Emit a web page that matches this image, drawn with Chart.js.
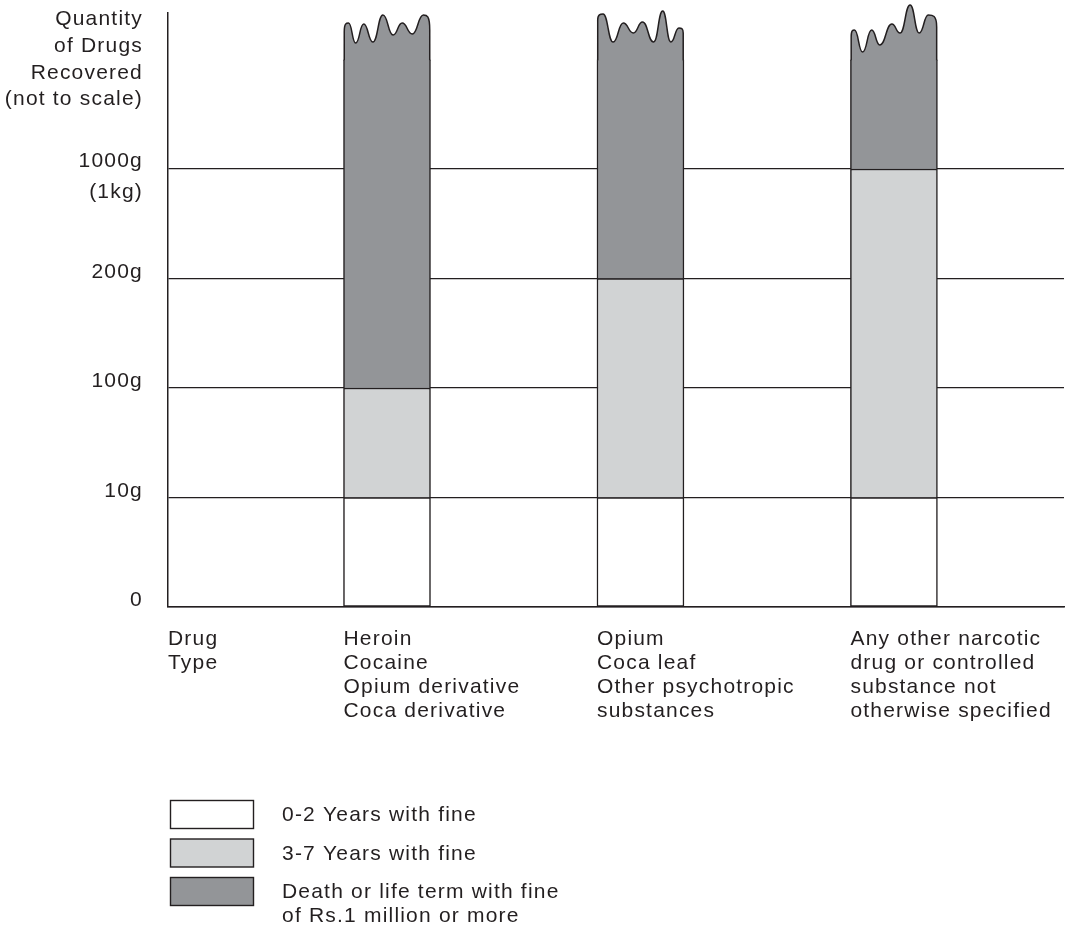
<!DOCTYPE html>
<html><head><meta charset="utf-8">
<script src="https://cdn.jsdelivr.net/npm/chart.js@4.4.1/dist/chart.umd.min.js"></script>
<style>html,body{margin:0;padding:0;background:#fff}#wrap{width:1065px;height:938px;position:relative}</style>
</head><body><div id="wrap"><canvas id="c"></canvas></div>
<script>
// ---------------- data ----------------
const drugGroups = [
  ['Heroin', 'Cocaine', 'Opium derivative', 'Coca derivative'],
  ['Opium', 'Coca leaf', 'Other psychotropic', 'substances'],
  ['Any other narcotic', 'drug or controlled', 'substance not', 'otherwise specified']
];
const axisHeader = ['Drug', 'Type'];
const groupPositions = [1, 2, 3];
// quantity levels on the (not to scale) axis
const quantityLevels = [0, 1, 2, 3, 4];
const quantityLabels = ['0', '10g', '100g', '200g', ['1000g', '(1kg)']];
const captionLevel = 5;
const yAxisCaption = ['Quantity', 'of Drugs', 'Recovered', '(not to scale)'];
// upper level of each penalty band per drug group
const band1Upper = [1, 1, 1];   // 0-2 years: up to 10g
const band2Upper = [2, 3, 4];   // 3-7 years: up to 100g / 200g / 1000g
const band3Upper = [5, 5, 5];   // death / life term: open-ended
const penaltyLabels = ['0-2 Years with fine', '3-7 Years with fine',
  ['Death or life term with fine', 'of Rs.1 million or more']];

// ---------------- style ----------------
const INK = '#231f20';
const BW = 1.5;
const FS = 21;
const FONT = '"Liberation Sans", Arial, Helvetica, sans-serif';
const COLORS = ['#ffffff', '#d1d3d4', '#939598'];
// decorative wavy tops ("not to scale"), x in 1/86 of bar width, h in px above bar top
const WAVES = [
  [[0,27.5],[5,36.5],[12,16.5],[20,35.5],[29,17.5],[39,44.5],[49,24.5],[58,36.5],[68,25.5],[79,44.5],[86,29.5]],
  [[0,39.5],[6,45.5],[16,17.5],[26,36.5],[36,26.5],[45,37.5],[56,17.5],[65,48.5],[73,17.5],[81,31.5],[86,26.5]],
  [[0,22.5],[4,29.5],[12,7.5],[21,29.5],[29,14.5],[41,35.5],[49,26.5],[59,54.5],[68,26.5],[77,44.5],[86,32.5]]
];

Chart.defaults.font.family = FONT;
Chart.defaults.color = INK;

const letterSpacingPlugin = {
  id: 'ls',
  beforeDraw(chart) { chart.ctx.letterSpacing = '1.2px'; }
};

const wavyTopPlugin = {
  id: 'wavy',
  afterDatasetsDraw(chart) {
    const ctx = chart.ctx;
    const meta = chart.getDatasetMeta(2);
    meta.data.forEach((el, i) => {
      const p = el.getProps(['x', 'y', 'width'], true);
      const left = p.x - p.width / 2, right = p.x + p.width / 2;
      const L = left + BW / 2, R = right - BW / 2;
      const k = p.width / 86;
      const pts = WAVES[i].map(([dx, h], j, arr) => ({
        x: j === 0 ? L : (j === arr.length - 1 ? R : left + dx * k),
        y: p.y - h
      }));
      ctx.save();
      ctx.beginPath();
      ctx.moveTo(L, p.y + 1);
      ctx.lineTo(L, pts[0].y);
      const a1 = pts[1];
      ctx.bezierCurveTo(L, a1.y, a1.x - (a1.x - L) * 0.5, a1.y, a1.x, a1.y);
      for (let j = 1; j < pts.length - 2; j++) {
        const a = pts[j], b = pts[j + 1];
        const m = (a.x + b.x) / 2;
        ctx.bezierCurveTo(m, a.y, m, b.y, b.x, b.y);
      }
      const a = pts[pts.length - 2], b = pts[pts.length - 1];
      ctx.bezierCurveTo(a.x + (R - a.x) * 0.5, a.y, R, a.y, R, b.y);
      ctx.lineTo(R, p.y + 1);
      ctx.fillStyle = COLORS[2];
      ctx.fill();
      ctx.strokeStyle = INK;
      ctx.lineWidth = BW;
      ctx.lineJoin = 'round';
      ctx.stroke();
      ctx.restore();
    });
  }
};

const legendPlugin = {
  id: 'customLegend',
  afterDraw(chart) {
    const ctx = chart.ctx;
    const ca = chart.chartArea;
    const bx = ca.left + 2.5, by0 = ca.bottom + 193.5, bwid = 83, bh = 28, pitch = 38.5;
    ctx.save();
    ctx.font = FS + 'px ' + FONT;
    ctx.textAlign = 'left';
    ctx.textBaseline = 'middle';
    chart.data.datasets.forEach((ds, i) => {
      const by = by0 + i * pitch;
      ctx.fillStyle = ds.backgroundColor;
      ctx.fillRect(bx, by, bwid, bh);
      ctx.strokeStyle = INK;
      ctx.lineWidth = 1.4;
      ctx.strokeRect(bx, by, bwid, bh);
      const lines = Array.isArray(ds.label) ? ds.label : [ds.label];
      ctx.fillStyle = INK;
      lines.forEach((t, j) => ctx.fillText(t, ca.left + 114, by + bh / 2 + 1 + j * 24));
    });
    ctx.restore();
  }
};

const xTickLabels = [axisHeader].concat(drugGroups);
const LABEL_SHIFT = 0.1716; // label starts at bar's left edge

new Chart(document.getElementById('c'), {
  type: 'bar',
  data: {
    datasets: [
      { label: penaltyLabels[0], data: groupPositions.map((x, i) => ({ x, y: [0, band1Upper[i]] })),
        backgroundColor: COLORS[0], borderColor: INK, borderSkipped: false,
        borderWidth: { top: BW, bottom: BW, left: BW, right: BW } },
      { label: penaltyLabels[1], data: groupPositions.map((x, i) => ({ x, y: [band1Upper[i], band2Upper[i]] })),
        backgroundColor: COLORS[1], borderColor: INK, borderSkipped: false,
        borderWidth: { top: BW, bottom: 0, left: BW, right: BW } },
      { label: penaltyLabels[2], data: groupPositions.map((x, i) => ({ x, y: [band2Upper[i], band3Upper[i]] })),
        backgroundColor: COLORS[2], borderColor: INK, borderSkipped: false,
        borderWidth: { top: 0, bottom: 0, left: BW, right: BW } }
    ]
  },
  options: {
    responsive: true, maintainAspectRatio: false, animation: false,
    datasets: { bar: { grouped: false, barThickness: 87 } },
    layout: { padding: { top: 13, right: 1, bottom: 0, left: 0 } },
    plugins: { legend: { display: false }, tooltip: { enabled: false } },
    scales: {
      x: {
        type: 'linear', offset: false, min: 0.136, max: 3.671,
        grid: { display: false, drawTicks: false, tickLength: 0, offset: false },
        border: { display: true, color: INK, width: BW },
        afterBuildTicks: s => { s.ticks = [0.136].concat(groupPositions.map(v => v - LABEL_SHIFT)).map(v => ({ value: v })); },
        afterFit: s => { s.height = 331; s.paddingLeft = 0; s.paddingRight = 0; },
        ticks: {
          autoSkip: false, maxRotation: 0, minRotation: 0, align: 'start', padding: 20,
          color: INK, font: { size: FS, lineHeight: '24px' },
          callback: (v, i) => xTickLabels[i]
        }
      },
      y: {
        type: 'linear', min: 0, max: 5.425,
        grid: {
          drawTicks: false, tickLength: 0, lineWidth: 1.3,
          color: c => (c.tick && c.tick.value === captionLevel) ? 'rgba(0,0,0,0)' : INK
        },
        border: { display: true, color: INK, width: BW },
        afterBuildTicks: s => { s.ticks = quantityLevels.concat([captionLevel]).map(v => ({ value: v })); },
        afterFit: s => { s.width = 168; s.paddingTop = 0; s.paddingBottom = 0; },
        ticks: {
          autoSkip: false, padding: 25, color: INK,
          font: c => {
            const i = c.index;
            if (i === quantityLevels.length) return { size: FS, lineHeight: '26.6px' };
            if (Array.isArray(quantityLabels[i])) return { size: FS, lineHeight: '15.5px' };
            return { size: FS, lineHeight: '13px' };
          },
          callback: (v, i) => {
            if (i === quantityLevels.length) return yAxisCaption;
            const lab = quantityLabels[i];
            if (Array.isArray(lab)) return ['', lab[0], '', lab[1]];
            return [lab, ''];
          }
        }
      }
    }
  },
  plugins: [letterSpacingPlugin, wavyTopPlugin, legendPlugin]
});
</script>
</body></html>
